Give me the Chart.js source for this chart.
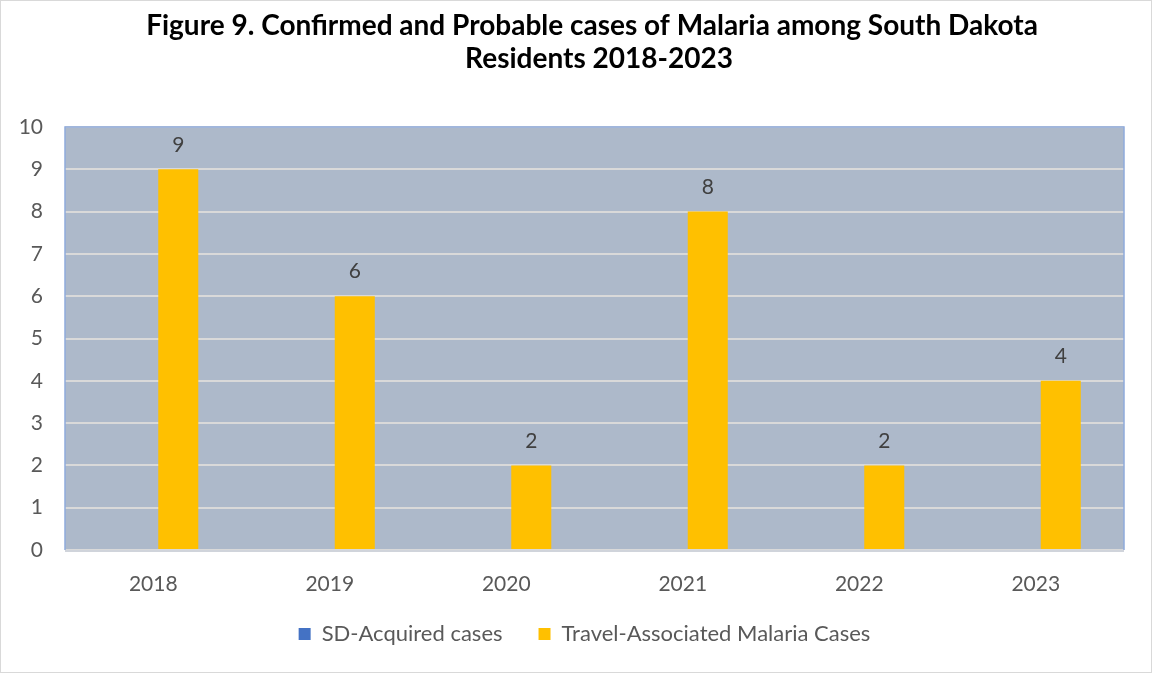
<!DOCTYPE html>
<html>
<head>
<meta charset="utf-8">
<script src="https://cdn.jsdelivr.net/npm/chart.js@4"></script>
<style>
  html, body { margin: 0; padding: 0; background: #fff; }
  #wrap { position: relative; width: 1150px; height: 671px; border: 1px solid #d9d9d9; }
</style>
</head>
<body>
<div id="wrap"><canvas id="chart"></canvas></div>
<script>
const years = ['2018', '2019', '2020', '2021', '2022', '2023'];
const sdAcquired = [0, 0, 0, 0, 0, 0];
const travelAssociated = [9, 6, 2, 8, 2, 4];
const yTicks = [0, 1, 2, 3, 4, 5, 6, 7, 8, 9, 10];
const titleLines = ['Figure 9. Confirmed and Probable cases of Malaria among South Dakota', 'Residents 2018-2023'];

const FONT = 'Lato, "Open Sans", sans-serif';

// grey-blue plot background with light blue frame
const plotBackground = {
    id: 'plotBackground',
    beforeDraw(chart) {
        const { ctx, chartArea: a } = chart;
        ctx.save();
        ctx.fillStyle = '#adb9ca';
        ctx.fillRect(a.left, a.top, a.right - a.left, a.bottom - a.top);
        ctx.restore();
    },
    afterDraw(chart) {
        const { ctx, chartArea: a } = chart;
        ctx.save();
        ctx.strokeStyle = '#8faadc';
        ctx.lineWidth = 1.5;
        ctx.beginPath();
        ctx.moveTo(a.left, a.bottom);
        ctx.lineTo(a.left, a.top);
        ctx.lineTo(a.right, a.top);
        ctx.lineTo(a.right, a.bottom);
        ctx.stroke();
        ctx.strokeStyle = '#d0d4db';
        ctx.lineWidth = 2;
        ctx.beginPath();
        ctx.moveTo(a.left, a.bottom + 1);
        ctx.lineTo(a.right, a.bottom + 1);
        ctx.stroke();
        ctx.restore();
    }
};

// two-line bold heading, centred a little right of the canvas middle
const heading = {
    id: 'heading',
    afterDraw(chart) {
        const { ctx } = chart;
        ctx.save();
        ctx.font = 'bold 28px ' + FONT;
        ctx.fillStyle = '#000';
        ctx.textAlign = 'center';
        ctx.textBaseline = 'alphabetic';
        ctx.fillText(titleLines[0], 591, 34);
        ctx.fillText(titleLines[1], 598, 67);
        ctx.restore();
    }
};

// move the legend row right and up so it sits under the heading
const legendShift = {
    id: 'legendShift',
    afterLayout(chart) {
        const lg = chart.legend;
        lg.left += 22;
        lg.right += 22;
        lg.top -= 29;
        lg.bottom -= 29;
    }
};

// value labels above the travel bars
const barLabels = {
    id: 'barLabels',
    afterDatasetsDraw(chart) {
        const { ctx } = chart;
        const meta = chart.getDatasetMeta(1);
        ctx.save();
        ctx.font = '21px ' + FONT;
        ctx.fillStyle = '#404040';
        ctx.textAlign = 'center';
        ctx.textBaseline = 'bottom';
        meta.data.forEach((bar, i) => {
            ctx.fillText(String(travelAssociated[i]), bar.x, bar.y - 14);
        });
        ctx.restore();
    }
};

new Chart(document.getElementById('chart'), {
    type: 'bar',
    data: {
        labels: years,
        datasets: [
            {
                label: 'SD-Acquired cases',
                data: sdAcquired,
                backgroundColor: '#4472c4',
                categoryPercentage: 0.567,
                barPercentage: 0.8
            },
            {
                label: 'Travel-Associated Malaria Cases',
                data: travelAssociated,
                backgroundColor: '#ffc000',
                categoryPercentage: 0.567,
                barPercentage: 0.8
            }
        ]
    },
    options: {
        responsive: true,
        maintainAspectRatio: false,
        animation: false,
        layout: { padding: { left: 0, right: 27, top: 126, bottom: -12 } },
        plugins: {
            title: { display: false },
            legend: {
                position: 'bottom',
                labels: {
                    color: '#595959',
                    font: { family: FONT, size: 22 },
                    boxWidth: 12,
                    boxHeight: 12,
                    padding: 36
                }
            },
            tooltip: { enabled: false }
        },
        scales: {
            x: {
                grid: { display: false },
                border: { display: false },
                ticks: { color: '#595959', font: { family: FONT, size: 21 }, padding: 14 },
                afterFit(scale) { scale.height = 66; }
            },
            y: {
                min: 0,
                max: 10,
                afterBuildTicks(scale) { scale.ticks = yTicks.map(v => ({ value: v })); },
                grid: { color: '#d9d9d9', lineWidth: 2, drawTicks: false },
                border: { display: false },
                ticks: { color: '#595959', font: { family: FONT, size: 21 }, padding: 22 },
                afterFit(scale) { scale.width = 64; }
            }
        }
    },
    plugins: [plotBackground, barLabels, heading, legendShift]
});
</script>
</body>
</html>
